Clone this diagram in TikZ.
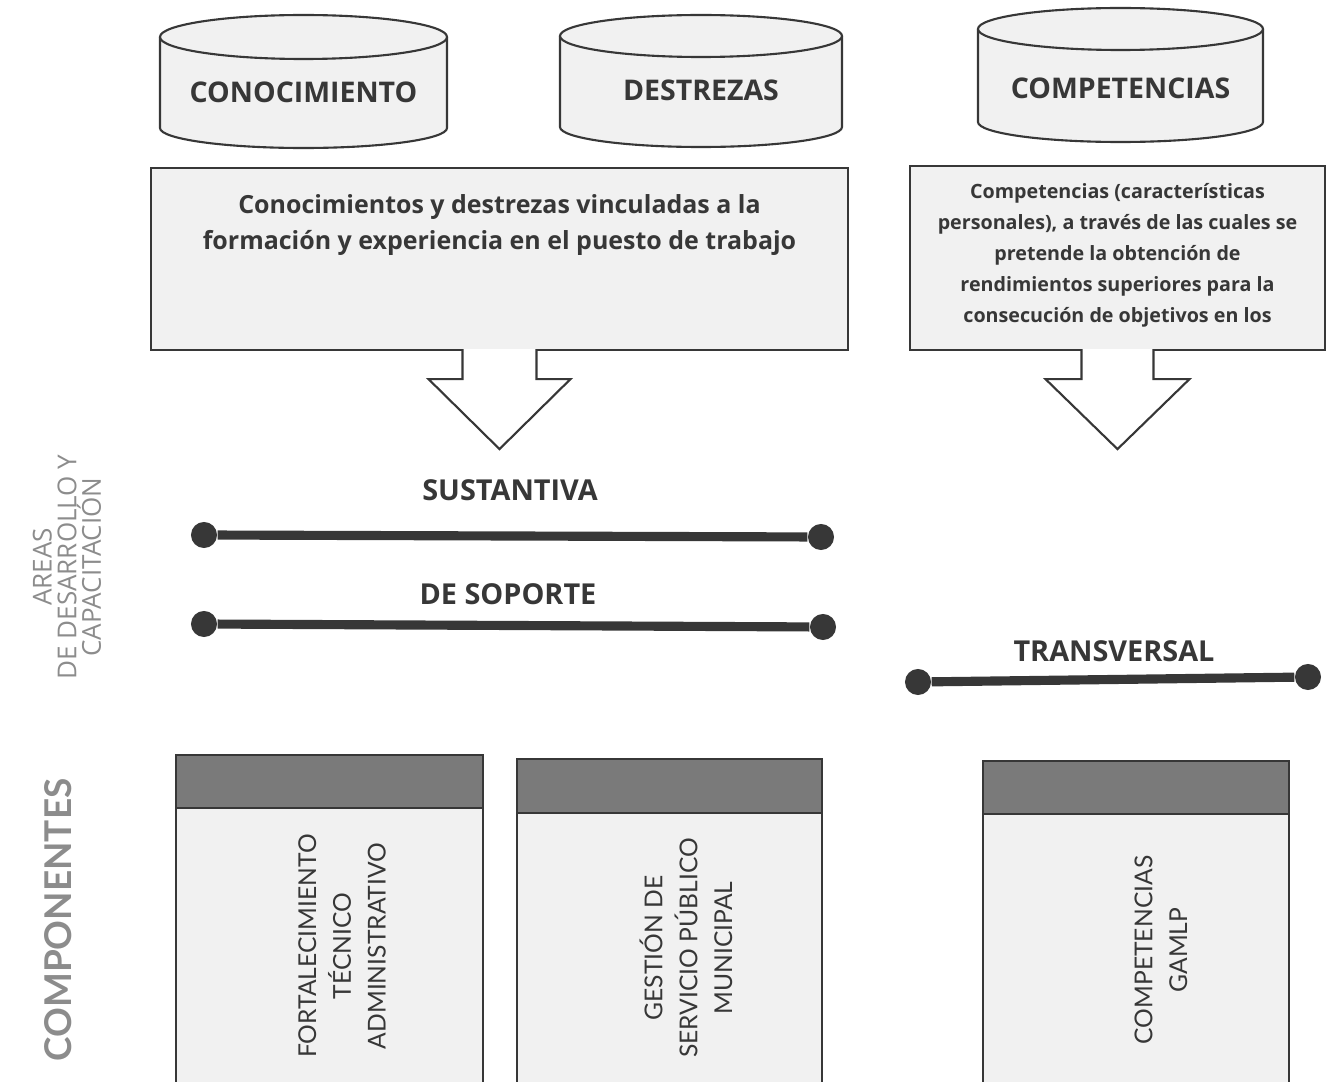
\documentclass[tikz,border=0pt]{standalone}
\usepackage{fontspec}
\setmainfont{Open Sans}
\newfontfamily\compfont{Lato}
\usetikzlibrary{positioning,calc}
\definecolor{inkgray}{RGB}{55,55,55}
\definecolor{boxfill}{RGB}{241,241,241}
\definecolor{headgray}{RGB}{122,122,122}
\definecolor{sidegray}{RGB}{140,140,140}

\begin{document}
\begin{tikzpicture}[x=0.01cm,y=-0.01cm,
    cyl/.style={draw=inkgray,fill=boxfill,line width=0.6pt},
    cyltext/.style={font=\bfseries\fontsize{8.1}{9}\selectfont,text=inkgray},
    textbox/.style={draw=inkgray,fill=boxfill,line width=0.6pt,inner sep=0pt},
    boxtext/.style={font=\bfseries\fontsize{7.1}{10.2}\selectfont,text=inkgray,align=center},
    smalltext/.style={font=\bfseries\fontsize{5.6}{8.8}\selectfont,text=inkgray,align=center},
    blockarrow/.style={draw=inkgray,fill=white,line width=0.6pt},
    dot/.style={circle,fill=inkgray,inner sep=0pt,minimum size=0.26cm},
    bar/.style={draw=inkgray,line width=2.6pt},
    arealabel/.style={font=\bfseries\fontsize{8.2}{9}\selectfont,text=inkgray},
    sidetext/.style={font=\fontsize{7.4}{7}\selectfont,text=sidegray,align=center,rotate=90},
    comphead/.style={draw=inkgray,fill=headgray,line width=0.6pt},
    compbody/.style={draw=inkgray,fill=boxfill,line width=0.5pt},
    comptext/.style={font=\compfont\fontsize{7}{9.9}\selectfont,text=inkgray,align=center,rotate=90}]
    \useasboundingbox (0,0) rectangle (1326,1082);

    % Cylinders
    \filldraw[cyl] (160,37) -- (160,128) arc[start angle=180,end angle=0,x radius=143.5,y radius=20] -- (447,37);
    \filldraw[cyl] (303.5,37) ellipse[x radius=143.5,y radius=22];
    \node[cyltext] (know) at (303.5,92) {CONOCIMIENTO};

    \filldraw[cyl] (560,36) -- (560,127) arc[start angle=180,end angle=0,x radius=141,y radius=20] -- (842,36);
    \filldraw[cyl] (701,36) ellipse[x radius=141,y radius=21];
    \node[cyltext] (skill) at (701,90) {DESTREZAS};

    \filldraw[cyl] (978,29) -- (978,122) arc[start angle=180,end angle=0,x radius=142.5,y radius=20] -- (1263,29);
    \filldraw[cyl] (1120.5,29) ellipse[x radius=142.5,y radius=21];
    \node[cyltext] (comp) at (1120.5,88) {COMPETENCIAS};

    % Boxes
    \node[textbox,minimum width=6.97cm,minimum height=1.82cm] (sbox) at (499.5,259) {};
    \node[boxtext] (stext) at (499.5,225) {Conocimientos y destrezas vinculadas a la\\formación y experiencia en el puesto de trabajo};
    \node[textbox,minimum width=4.15cm,minimum height=1.84cm] (tbox) at (1117.5,258) {};
    \node[smalltext] (ttext) at (1117.5,255) {Competencias (características\\personales), a través de las cuales se\\pretende la obtención de\\rendimientos superiores para la\\consecución de objetivos en los};

    % Arrows
    \filldraw[blockarrow] ($(sbox.south)+(-37,-2)$) -- ++(0,30) -- ++(-34,0) -- ++(71,70) -- ++(71,-70) -- ++(-34,0) -- ++(0,-30);
    \filldraw[blockarrow] ($(tbox.south)+(-36,-2)$) -- ++(0,30) -- ++(-36,0) -- ++(72,70) -- ++(72,-70) -- ++(-36,0) -- ++(0,-30);

    % Areas
    \node[arealabel] (sust) at (510,490) {SUSTANTIVA};
    \node[dot] (sustL) at (204,535) {};
    \node[dot] (sustR) at (821,537) {};
    \draw[bar] (sustL) -- (sustR);

    \node[arealabel] (sop) at (508,594) {DE SOPORTE};
    \node[dot] (sopL) at (204,624) {};
    \node[dot] (sopR) at (823,627) {};
    \draw[bar] (sopL) -- (sopR);

    \node[arealabel] (trans) at (1114,651) {TRANSVERSAL};
    \node[dot] (transL) at (918,682) {};
    \node[dot] (transR) at (1308,677) {};
    \draw[bar] (transL) -- (transR);

    \node[sidetext] (areas) at (67,567) {AREAS\\DE DESARROLLO Y\\CAPACITACIÓN};
    \node[font=\compfont\bfseries\fontsize{10.5}{12}\selectfont,text=sidegray,rotate=90] (comps) at (58,920) {COMPONENTES};

    % Components
    \filldraw[compbody] (176,755) rectangle (483,1095);
    \filldraw[comphead] (176,755) rectangle (483,808);
    \node[comptext] (fort) at (342,946) {FORTALECIMIENTO\\TÉCNICO\\ADMINISTRATIVO};

    \filldraw[compbody] (517,759) rectangle (822,1095);
    \filldraw[comphead] (517,759) rectangle (822,813);
    \node[comptext] (gest) at (686,948) {GESTIÓN DE\\SERVICIO PÚBLICO\\MUNICIPAL};

    \filldraw[compbody] (983,761) rectangle (1289,1095);
    \filldraw[comphead] (983,761) rectangle (1289,814);
    \node[comptext] (gaml) at (1161,950) {COMPETENCIAS\\GAMLP};
\end{tikzpicture}
\end{document}
